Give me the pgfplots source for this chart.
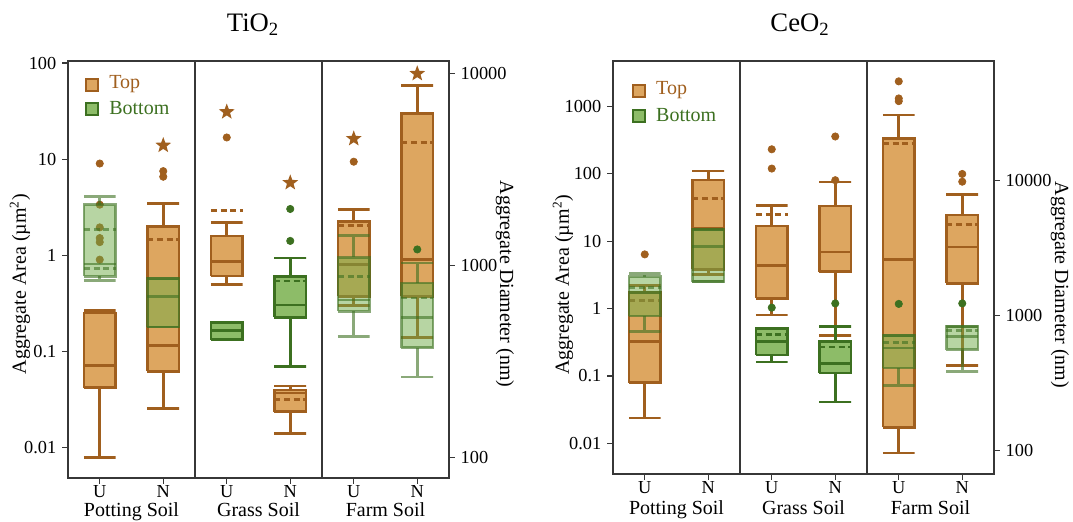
\documentclass[border=0pt]{standalone}
\usepackage{fontspec}
\setmainfont{Liberation Serif}
\usepackage{pgfplots}
\pgfplotsset{compat=1.18}

\definecolor{orF}{RGB}{221,166,96}
\definecolor{brE}{RGB}{160,95,30}
\definecolor{grE}{RGB}{60,112,32}
\definecolor{grF}{RGB}{141,188,104}
\definecolor{grT}{RGB}{112,172,72}
\definecolor{axc}{RGB}{55,55,55}

% filled five point star
\pgfdeclareplotmark{fstar}{%
  \pgfpathmoveto{\pgfpointpolar{90}{\pgfplotmarksize}}%
  \pgfpathlineto{\pgfpointpolar{126}{0.42\pgfplotmarksize}}%
  \pgfpathlineto{\pgfpointpolar{162}{\pgfplotmarksize}}%
  \pgfpathlineto{\pgfpointpolar{198}{0.42\pgfplotmarksize}}%
  \pgfpathlineto{\pgfpointpolar{234}{\pgfplotmarksize}}%
  \pgfpathlineto{\pgfpointpolar{270}{0.42\pgfplotmarksize}}%
  \pgfpathlineto{\pgfpointpolar{306}{\pgfplotmarksize}}%
  \pgfpathlineto{\pgfpointpolar{342}{0.42\pgfplotmarksize}}%
  \pgfpathlineto{\pgfpointpolar{18}{\pgfplotmarksize}}%
  \pgfpathlineto{\pgfpointpolar{54}{0.42\pgfplotmarksize}}%
  \pgfpathclose\pgfusepathqfill}

\pgfplotsset{
  myTopBox/.style={draw=brE, fill=orF, line width=1.6pt, line join=miter},
  myTopLine/.style={brE, line width=1.6pt},
  myBotBox/.style={draw=grE, fill=grF, line width=1.6pt, line join=miter},
  myBotLine/.style={grE, line width=1.6pt},
  myBotBoxT/.style={draw=grE, fill=grT, line width=1.6pt, line join=miter, fill opacity=0.5, draw opacity=0.6},
  myBotLineT/.style={grE, line width=1.6pt, opacity=0.6},
  myTopMean/.style={brE, line width=1.6pt, dash pattern=on 3.6pt off 2.2pt},
  myBotMean/.style={grE, line width=1.6pt, dash pattern=on 3.6pt off 2.2pt},
  myBotMeanT/.style={grE, line width=1.6pt, dash pattern=on 3.6pt off 2.2pt, opacity=0.6},
  myTopOut/.style={only marks, mark=*, mark size=2.2pt, brE, mark options={fill=brE, draw=brE}},
  myBotOut/.style={only marks, mark=*, mark size=2.2pt, grE, mark options={fill=grE, draw=grE}},
  myStar/.style={only marks, mark=fstar, mark size=5pt, brE, mark options={fill=brE}},
}

% box: box style, line style, position, lower whisker, lower quartile, median, upper quartile, upper whisker
\newcommand{\bx}[8]{%
  \pgfmathsetmacro\xa{#3-0.25}\pgfmathsetmacro\xb{#3+0.25}%
  \edef\tmp{%
    \noexpand\addplot[#1] coordinates {(\xa,#5) (\xb,#5) (\xb,#7) (\xa,#7) (\xa,#5)};
    \noexpand\addplot[#2] coordinates {(\xa,#6) (\xb,#6)};
    \noexpand\addplot[#2] coordinates {(\xa,#8) (\xb,#8) (#3,#8) (#3,#7)};
    \noexpand\addplot[#2] coordinates {(\xa,#4) (\xb,#4) (#3,#4) (#3,#5)};
  }\tmp}

% separators and soil names; #1 = depth of the names' baseline below the axis
\newcommand{\soils}[1]{%
  \draw[axc, line width=0.7pt] (rel axis cs:0.3333,0) -- (rel axis cs:0.3333,1);
  \draw[axc, line width=0.7pt] (rel axis cs:0.6667,0) -- (rel axis cs:0.6667,1);
  \node[font=\fontsize{12}{12}\selectfont, inner sep=0pt, anchor=base, yshift=-#1] at (rel axis cs:0.1667,0) {Potting Soil};
  \node[font=\fontsize{12}{12}\selectfont, inner sep=0pt, anchor=base, yshift=-#1] at (rel axis cs:0.5,0) {Grass Soil};
  \node[font=\fontsize{12}{12}\selectfont, inner sep=0pt, anchor=base, yshift=-#1] at (rel axis cs:0.8333,0) {Farm Soil};}

% legend key: x, y of the upper square centre (rel axis cs), gap to the lower one
\newcommand{\keys}[3]{%
  \draw[brE, fill=orF, line width=1.2pt] ([yshift=-3.7pt]rel axis cs:#1,#2) rectangle ([xshift=7.4pt,yshift=3.7pt]rel axis cs:#1,#2);
  \node[anchor=west, text=brE, font=\fontsize{12}{12}\selectfont, xshift=10.5pt, yshift=0.6pt] at (rel axis cs:#1,#2) {Top};
  \draw[grE, fill=grF, line width=1.2pt] ([yshift=-#3-3.7pt]rel axis cs:#1,#2) rectangle ([xshift=7.4pt,yshift=-#3+3.7pt]rel axis cs:#1,#2);
  \node[anchor=west, text=grE, font=\fontsize{12}{12}\selectfont, xshift=10.5pt, yshift=-#3+0.6pt] at (rel axis cs:#1,#2) {Bottom};}

\begin{document}
\begin{tikzpicture}
\useasboundingbox (0,0) rectangle (643.8pt,312.6pt);

\node[font=\fontsize{16}{16}\selectfont] at (151.8pt,297.6pt) {TiO\textsubscript{2}};
\node[font=\fontsize{16}{16}\selectfont] at (480pt,297.6pt) {CeO\textsubscript{2}};

% ---------------- TiO2 ----------------
\begin{axis}[at={(40.8pt,25.8pt)}, anchor=south west,
  scale only axis, width=228.6pt, height=250.2pt, clip mode=individual,
  xmin=0, xmax=6, ymode=log, ymin=0.00482, ymax=104.9,
  axis line style={axc, line width=0.7pt}, tick style={axc, line width=0.7pt},
  tick align=outside, major tick length=3.5pt, minor tick length=0pt,
  xtick={0.5,1.5,2.5,3.5,4.5,5.5}, xticklabels={U,N,U,N,U,N},
  ytick={0.01,0.1,1,10,100}, yticklabels={0.01,0.1,1,10,100},
  xtick pos=bottom, ytick pos=left,
  tick label style={font=\fontsize{11}{11}\selectfont},
  xticklabel style={inner sep=1pt},
  ylabel={Aggregate Area (µm\textsuperscript{2})},
  ylabel style={font=\fontsize{12}{12}\selectfont, at={(axis description cs:-0.126,0.465)}, anchor=center}]
\soils{23.2pt}
\keys{0.047}{0.942}{14.1pt}

% top
\bx{myTopBox}{myTopLine}{0.5}{0.0079}{0.042}{0.071}{0.25}{0.267}
\bx{myTopBox}{myTopLine}{1.5}{0.0256}{0.062}{0.116}{1.98}{3.47}
\bx{myTopBox}{myTopLine}{2.5}{0.5}{0.61}{0.86}{1.59}{2.18}
\bx{myTopBox}{myTopLine}{3.5}{0.0139}{0.0236}{0.037}{0.0397}{0.0437}
\bx{myTopBox}{myTopLine}{4.5}{0.30}{0.375}{0.80}{2.26}{2.98}
\bx{myTopBox}{myTopLine}{5.5}{0.139}{0.375}{0.90}{29.6}{58}
\addplot[myTopMean] coordinates {(1.25,1.47) (1.75,1.47)};
\addplot[myTopMean] coordinates {(2.25,2.93) (2.75,2.93)};
\addplot[myTopMean] coordinates {(3.25,0.0318) (3.75,0.0318)};
\addplot[myTopMean] coordinates {(4.25,2.05) (4.75,2.05)};
\addplot[myTopMean] coordinates {(5.25,14.8) (5.75,14.8)};
\addplot[myTopOut] coordinates {(0.5,9.0) (0.5,3.36) (0.5,1.95) (0.5,1.51) (0.5,1.37) (0.5,0.90)
  (1.5,7.5) (1.5,6.56) (2.5,16.8) (4.5,9.4)};
\addplot[myStar] coordinates {(1.5,13.9) (2.5,31) (3.5,5.68) (4.5,16.3) (5.5,77.5)};

% bottom
\bx{myBotBoxT}{myBotLineT}{0.5}{0.55}{0.605}{0.81}{3.36}{4.1}
\bx{myBotBoxT}{myBotLineT}{1.5}{0.18}{0.18}{0.375}{0.573}{0.573}
\bx{myBotBox}{myBotLine}{2.5}{0.132}{0.132}{0.166}{0.2}{0.2}
\bx{myBotBox}{myBotLine}{3.5}{0.07}{0.227}{0.305}{0.6}{0.94}
\bx{myBotBoxT}{myBotLineT}{4.5}{0.144}{0.262}{0.343}{0.95}{1.60}
\bx{myBotBoxT}{myBotLineT}{5.5}{0.054}{0.109}{0.227}{0.516}{0.83}
\addplot[myBotMeanT] coordinates {(0.25,1.85) (0.75,1.85)};
\addplot[myBotMeanT] coordinates {(0.25,0.73) (0.75,0.73)};
\addplot[myBotMean] coordinates {(3.25,0.54) (3.75,0.54)};
\addplot[myBotMeanT] coordinates {(4.25,0.605) (4.75,0.605)};
\addplot[myBotMeanT] coordinates {(5.25,0.36) (5.75,0.36)};
\addplot[myBotOut] coordinates {(3.5,3.03) (3.5,1.41) (5.5,1.15)};
\end{axis}
\begin{axis}[at={(40.8pt,25.8pt)}, anchor=south west,
  scale only axis, width=228.6pt, height=250.2pt,
  xmin=0, xmax=6, ymode=log, ymin=0.00482, ymax=104.9,
  axis x line=none, axis y line*=right,
  axis line style={axc, line width=0.7pt}, tick style={axc, line width=0.7pt},
  tick align=outside, major tick length=3.5pt, minor tick length=0pt,
  ytick={0.007854,0.7854,78.54}, yticklabels={100,1000,10000},
  tick label style={font=\fontsize{11}{11}\selectfont},
  ylabel={Aggregate Diameter (nm)},
  ylabel style={font=\fontsize{12}{12}\selectfont, at={(axis description cs:1.147,0.465)}, anchor=center, rotate=180}]
\end{axis}

% ---------------- CeO2 ----------------
\begin{axis}[at={(367.8pt,28.2pt)}, anchor=south west,
  scale only axis, width=228.6pt, height=247.8pt, clip mode=individual,
  xmin=0, xmax=6, ymode=log, ymin=0.00351, ymax=4690,
  axis line style={axc, line width=0.7pt}, tick style={axc, line width=0.7pt},
  tick align=outside, major tick length=3.5pt, minor tick length=0pt,
  xtick={0.5,1.5,2.5,3.5,4.5,5.5}, xticklabels={U,N,U,N,U,N},
  ytick={0.01,0.1,1,10,100,1000}, yticklabels={0.01,0.1,1,10,100,1000},
  xtick pos=bottom, ytick pos=left,
  tick label style={font=\fontsize{11}{11}\selectfont},
  xticklabel style={inner sep=1pt},
  ylabel={Aggregate Area (µm\textsuperscript{2})},
  ylabel style={font=\fontsize{12}{12}\selectfont, at={(axis description cs:-0.131,0.458)}, anchor=center}]
\soils{24.2pt}
\keys{0.052}{0.927}{15pt}

% top
\bx{myTopBox}{myTopLine}{0.5}{0.0237}{0.079}{0.327}{1.71}{2.2}
\bx{myTopBox}{myTopLine}{1.5}{3.2}{3.8}{15.5}{80.6}{110}
\bx{myTopBox}{myTopLine}{2.5}{0.80}{1.41}{4.35}{16.7}{33.9}
\bx{myTopBox}{myTopLine}{3.5}{0.397}{3.51}{6.87}{33}{75}
\bx{myTopBox}{myTopLine}{4.5}{0.0072}{0.0172}{5.35}{336}{738}
\bx{myTopBox}{myTopLine}{5.5}{0.142}{2.35}{8.15}{24.4}{49.4}
\addplot[myTopMean] coordinates {(0.25,1.31) (0.75,1.31)};
\addplot[myTopMean] coordinates {(1.25,42.7) (1.75,42.7)};
\addplot[myTopMean] coordinates {(2.25,24.9) (2.75,24.9)};
\addplot[myTopMean] coordinates {(3.25,33) (3.75,33)};
\addplot[myTopMean] coordinates {(4.25,280) (4.75,280)};
\addplot[myTopMean] coordinates {(5.25,17.7) (5.75,17.7)};
\addplot[myTopOut] coordinates {(0.5,6.35) (2.5,230) (2.5,119) (3.5,356) (3.5,80)
  (4.5,2340) (4.5,1306) (4.5,1190) (5.5,99) (5.5,76)};

% bottom
\bx{myBotBoxT}{myBotLineT}{0.5}{0.46}{0.77}{1.71}{2.96}{3.31}
\bx{myBotBoxT}{myBotLineT}{1.5}{2.5}{2.5}{8.26}{14.9}{14.9}
\bx{myBotBox}{myBotLine}{2.5}{0.16}{0.205}{0.327}{0.51}{0.51}
\bx{myBotBox}{myBotLine}{3.5}{0.041}{0.111}{0.152}{0.327}{0.546}
\bx{myBotBoxT}{myBotLineT}{4.5}{0.0726}{0.131}{0.26}{0.397}{0.397}
\bx{myBotBoxT}{myBotLineT}{5.5}{0.117}{0.246}{0.388}{0.546}{0.546}
\addplot[myBotMeanT] coordinates {(0.25,2.03) (0.75,2.03)};
\addplot[myBotMean] coordinates {(2.25,0.41) (2.75,0.41)};
\addplot[myBotMean] coordinates {(3.25,0.27) (3.75,0.27)};
\addplot[myBotMeanT] coordinates {(4.25,0.316) (4.75,0.316)};
\addplot[myBotMeanT] coordinates {(5.25,0.471) (5.75,0.471)};
\addplot[myBotOut] coordinates {(2.5,1.03) (3.5,1.19) (4.5,1.17) (5.5,1.19)};
\end{axis}
\begin{axis}[at={(367.8pt,28.2pt)}, anchor=south west,
  scale only axis, width=228.6pt, height=247.8pt,
  xmin=0, xmax=6, ymode=log, ymin=0.00351, ymax=4690,
  axis x line=none, axis y line*=right,
  axis line style={axc, line width=0.7pt}, tick style={axc, line width=0.7pt},
  tick align=outside, major tick length=3.5pt, minor tick length=0pt,
  ytick={0.007854,0.7854,78.54}, yticklabels={100,1000,10000},
  tick label style={font=\fontsize{11}{11}\selectfont},
  ylabel={Aggregate Diameter (nm)},
  ylabel style={font=\fontsize{12}{12}\selectfont, at={(axis description cs:1.173,0.458)}, anchor=center, rotate=180}]
\end{axis}
\end{tikzpicture}
\end{document}
